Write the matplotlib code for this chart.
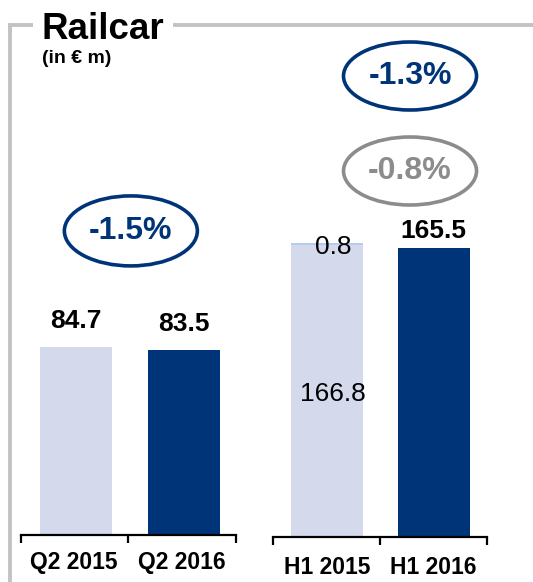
import matplotlib
matplotlib.use("Agg")
import matplotlib.pyplot as plt
from matplotlib.patches import Ellipse
from matplotlib.lines import Line2D

plt.rcParams['font.family'] = ['Liberation Sans', 'DejaVu Sans']

# ---- data ----
q2_labels = ["Q2 2015", "Q2 2016"]
q2_values = [84.7, 83.5]
h1_labels = ["H1 2015", "H1 2016"]
h1_base = [166.8, 165.5]
h1_extra = [0.8, 0.0]
q2_change = "-1.5%"
h1_change = "-1.3%"
h1_change_adj = "-0.8%"
title = "Railcar"
subtitle = "(in € m)"

NAVY = "#003478"
LIGHT = "#d4daeb"
LIGHTTOP = "#b3cdf0"
GRAY = "#8c8c8c"
FRAME = "#c3c3c3"

W, H = 533, 582
fig = plt.figure(figsize=(W / 100, H / 100), dpi=100)


def px_axes(left, right, top, bottom):
    return fig.add_axes([left / W, 1 - bottom / H, (right - left) / W, (bottom - top) / H])


def style_bracket(ax, xl, xm, xr):
    for s in ["top", "left", "right"]:
        ax.spines[s].set_visible(False)
    ax.spines["bottom"].set_linewidth(1.6)
    ax.spines["bottom"].set_color("black")
    ax.set_yticks([])
    ax.set_xticks([])
    ax.set_xticks([xl, xm, xr], minor=True)
    ax.tick_params(axis="x", which="minor", direction="out", length=6, width=1.6, color="black")
    ax.set_xlim(xl, xr)
    ax.patch.set_alpha(0)


# ---- Q2 group ----
ax1 = px_axes(21, 236, 20, 535)
ax1.set_ylim(0, 515 / 2.2196)
xl1, xr1 = -0.512, 1.488
style_bracket(ax1, xl1, 0.484, xr1)
bw = 0.67
x1 = list(range(len(q2_values)))
ax1.bar(x1, q2_values, width=bw, color=[LIGHT, NAVY], linewidth=0)
for xi, v, off in zip(x1, q2_values, [26, 25.5]):
    ax1.annotate(f"{v:.1f}", xy=(xi, v), xytext=(0, off), textcoords="offset pixels",
                 ha="center", va="center", fontsize=19, fontweight="bold", color="black")
for xi, lab in zip(x1, q2_labels):
    ax1.annotate(lab, xy=(xi, 0), xycoords=("data", "axes fraction"), xytext=(-2, -28),
                 textcoords="offset pixels", ha="center", va="center",
                 fontsize=16.5, fontweight="bold", color="black", annotation_clip=False)

# ellipse for Q2 change
ax1.add_patch(Ellipse((0.51, 137), 133 / 107.5, 70 / 2.2196, facecolor="none",
                      edgecolor=NAVY, linewidth=2.6, clip_on=False))
ax1.text(0.51, 137, q2_change, ha="center", va="center", fontsize=23,
         fontweight="bold", color=NAVY)

# ---- H1 group ----
ax2 = px_axes(273, 487, 20, 537)
scale2 = 1.748
ax2.set_ylim(0, 517 / scale2)
xl2, xr2 = -0.507, 1.502
style_bracket(ax2, xl2, 0.498, xr2)
x2 = list(range(len(h1_base)))
ax2.bar(x2, h1_base, width=bw * 107.5 / 106.5, color=[LIGHT, NAVY], linewidth=0)
ax2.bar(x2, [e * 1.6 for e in h1_extra], bottom=h1_base, width=bw * 107.5 / 106.5,
        color=LIGHTTOP, linewidth=0)
# labels
ax2.annotate(f"{h1_base[1]:.1f}", xy=(1, h1_base[1] + h1_extra[1]), xytext=(0, 17),
             textcoords="offset pixels", ha="center", va="center",
             fontsize=19, fontweight="bold", color="black")
ax2.annotate(f"{h1_extra[0]:.1f}", xy=(0, h1_base[0] + h1_extra[0]), xytext=(6, -3),
             textcoords="offset pixels", ha="center", va="center",
             fontsize=19, color="black")
ax2.annotate(f"{h1_base[0]:.1f}", xy=(0, h1_base[0] / 2), xytext=(6, -3),
             textcoords="offset pixels", ha="center", va="center",
             fontsize=19, color="black")
for xi, lab in zip(x2, h1_labels):
    ax2.annotate(lab, xy=(xi, 0), xycoords=("data", "axes fraction"), xytext=(0, -30),
                 textcoords="offset pixels", ha="center", va="center",
                 fontsize=16.5, fontweight="bold", color="black", annotation_clip=False)

ex = (410 - 327) / 106.5
ax2.add_patch(Ellipse((ex, (537 - 76) / scale2), 133 / 106.5, 68 / scale2, facecolor="none",
                      edgecolor=NAVY, linewidth=2.6, clip_on=False))
ax2.text(ex, (537 - 76) / scale2, h1_change, ha="center", va="center", fontsize=23,
         fontweight="bold", color=NAVY)
ax2.add_patch(Ellipse((ex, (537 - 171) / scale2), 133 / 106.5, 68 / scale2, facecolor="none",
                      edgecolor=GRAY, linewidth=2.6, clip_on=False))
ax2.text(ex, (537 - 171) / scale2, h1_change_adj, ha="center", va="center", fontsize=23,
         fontweight="bold", color=GRAY)

# ---- frame & title ----
def fx(x):
    return x / W


def fy(y):
    return 1 - y / H


fig.add_artist(Line2D([fx(9.5), fx(9.5)], [fy(582), fy(24)], color=FRAME, linewidth=2.8,
                      solid_capstyle="butt"))
fig.add_artist(Line2D([fx(8.1), fx(33)], [fy(25.3), fy(25.3)], color=FRAME, linewidth=2.8,
                      solid_capstyle="butt"))
fig.add_artist(Line2D([fx(173), fx(533)], [fy(25.3), fy(25.3)], color=FRAME, linewidth=2.8,
                      solid_capstyle="butt"))
fig.text(fx(42), fy(39), title, ha="left", va="baseline", fontsize=26.5, fontweight="bold",
         color="black")
fig.text(fx(42), fy(63), subtitle, ha="left", va="baseline", fontsize=14, fontweight="bold",
         color="black")

fig.savefig("out.png", dpi=100)
